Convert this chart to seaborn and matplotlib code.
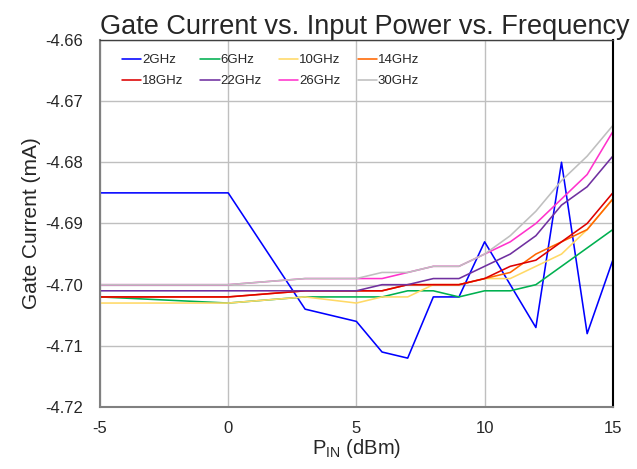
import matplotlib
matplotlib.use("Agg")
import matplotlib.pyplot as plt
import pandas as pd
import seaborn as sns

# Input power sweep (dBm)
pin_dbm = [-5, 0, 3, 5, 6, 7, 8, 9, 10, 11, 12, 13, 14, 15]

frequencies = ["2GHz", "6GHz", "10GHz", "14GHz", "18GHz", "22GHz", "26GHz", "30GHz"]

# Gate current (mA) per frequency
ig_2ghz = [-4.685, -4.685, -4.704, -4.706, -4.711, -4.712, -4.702, -4.702, -4.693, -4.700, -4.707, -4.680, -4.708, -4.696]
ig_6ghz = [-4.702, -4.703, -4.702, -4.702, -4.702, -4.701, -4.701, -4.702, -4.701, -4.701, -4.700, -4.697, -4.694, -4.691]
ig_10ghz = [-4.703, -4.703, -4.702, -4.703, -4.702, -4.702, -4.700, -4.700, -4.699, -4.699, -4.697, -4.695, -4.691, -4.686]
ig_14ghz = [-4.702, -4.702, -4.701, -4.701, -4.701, -4.700, -4.700, -4.700, -4.699, -4.698, -4.695, -4.693, -4.691, -4.686]
ig_18ghz = [-4.702, -4.702, -4.701, -4.701, -4.701, -4.700, -4.700, -4.700, -4.699, -4.697, -4.696, -4.693, -4.690, -4.685]
ig_22ghz = [-4.701, -4.701, -4.701, -4.701, -4.700, -4.700, -4.699, -4.699, -4.697, -4.695, -4.692, -4.687, -4.684, -4.679]
ig_26ghz = [-4.700, -4.700, -4.699, -4.699, -4.699, -4.698, -4.697, -4.697, -4.695, -4.693, -4.690, -4.686, -4.682, -4.675]
ig_30ghz = [-4.700, -4.700, -4.699, -4.699, -4.698, -4.698, -4.697, -4.697, -4.695, -4.692, -4.688, -4.683, -4.679, -4.674]

series = [ig_2ghz, ig_6ghz, ig_10ghz, ig_14ghz, ig_18ghz, ig_22ghz, ig_26ghz, ig_30ghz]
colors = ["#0000FF", "#00B050", "#FFD966", "#FF6600", "#DD0000", "#7030A0", "#FF33CC", "#BFBFBF"]

sns.set_style("white")
plt.rcParams["font.family"] = ["Liberation Sans", "DejaVu Sans"]
plt.rcParams["axes.unicode_minus"] = False

rows = []
for freq, values in zip(frequencies, series):
    for p, ig in zip(pin_dbm, values):
        rows.append({"Pin": p, "Ig": ig, "Frequency": freq})
df = pd.DataFrame(rows)

fig = plt.figure(figsize=(6.37, 4.69), dpi=100)
ax = fig.add_axes([0.157, 0.132, 0.805, 0.783])

ax.grid(True, color="#BFBFBF", linewidth=1.0)
ax.set_axisbelow(True)

sns.lineplot(
    data=df,
    x="Pin",
    y="Ig",
    hue="Frequency",
    hue_order=frequencies,
    palette=colors,
    estimator=None,
    sort=False,
    linewidth=1.15,
    ax=ax,
)

ax.set_xlim(-5, 15)
ax.set_ylim(-4.72, -4.66)
ax.set_xticks([-5, 0, 5, 10, 15])
ax.set_yticks([-4.72, -4.71, -4.70, -4.69, -4.68, -4.67, -4.66])
ax.set_yticklabels([f"{v:.2f}" for v in ax.get_yticks()])
ax.tick_params(axis="both", labelsize=12, length=0)
ax.tick_params(axis="x", pad=10)
ax.tick_params(axis="y", pad=12)

ax.set_title("Gate Current vs. Input Power vs. Frequency", fontsize=19.5, pad=4, x=0.517)
ax.set_xlabel("P$_{\\mathregular{IN}}$ (dBm)", fontsize=14.5, labelpad=1)
ax.set_ylabel("Gate Current (mA)", fontsize=15, labelpad=3)

for side in ["left", "bottom"]:
    ax.spines[side].set_color("#808080")
    ax.spines[side].set_linewidth(1.5)
ax.spines["right"].set_color("black")
ax.spines["right"].set_linewidth(1.5)
ax.spines["top"].set_color("#404040")
ax.spines["top"].set_linewidth(1.0)

# legend filled row by row, 4 columns
handles, labels = ax.get_legend_handles_labels()
order = [0, 4, 1, 5, 2, 6, 3, 7]
ax.legend(
    [handles[i] for i in order],
    [labels[i] for i in order],
    ncol=4,
    loc="upper left",
    bbox_to_anchor=(0.032, 0.976),
    borderaxespad=0,
    frameon=False,
    fontsize=9.5,
    handlelength=1.45,
    handletextpad=0.08,
    columnspacing=1.3,
    labelspacing=0.68,
)

fig.savefig("out.png", dpi=100)
